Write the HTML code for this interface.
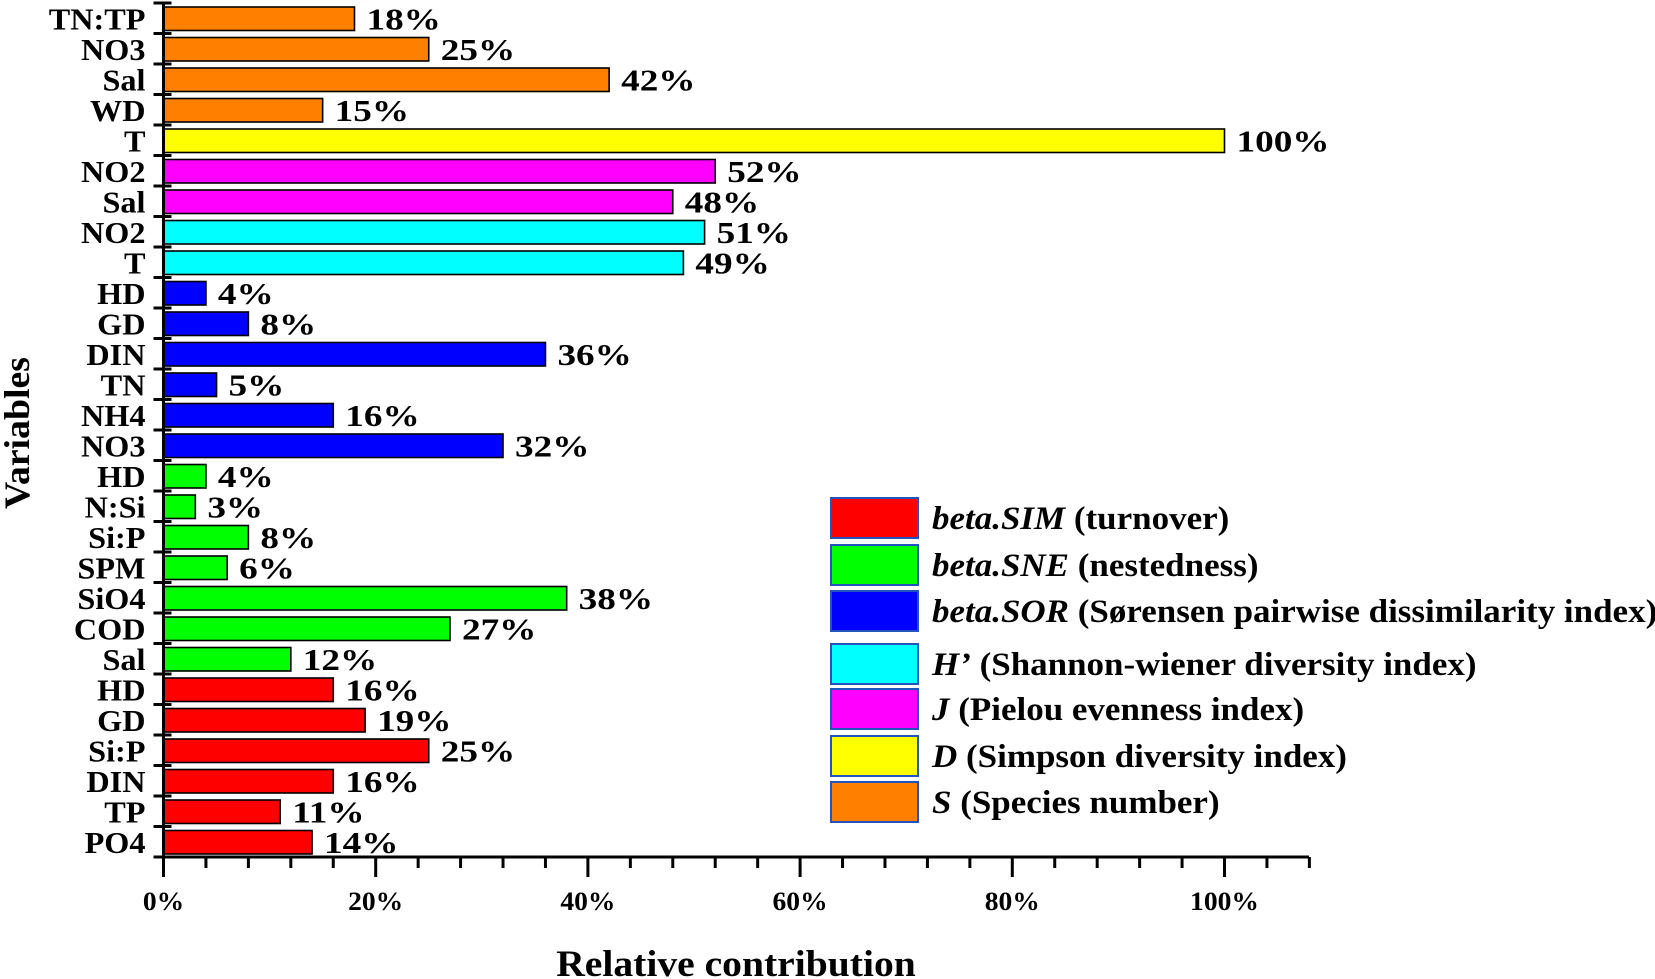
<!DOCTYPE html>
<html><head><meta charset="utf-8"><style>
html,body{margin:0;padding:0;background:#fff;}
svg{display:block;font-family:"Liberation Serif",serif;font-weight:bold;}
</style></head><body>
<svg id="chart" width="1655" height="979"></svg>
<script>
const categories=["TN:TP","NO3","Sal","WD","T","NO2","Sal","NO2","T","HD","GD","DIN","TN","NH4","NO3","HD","N:Si","Si:P","SPM","SiO4","COD","Sal","HD","GD","Si:P","DIN","TP","PO4"];
const values=[18,25,42,15,100,52,48,51,49,4,8,36,5,16,32,4,3,8,6,38,27,12,16,19,25,16,11,14];
const groups=["S","S","S","S","D","J","J","H","H","SOR","SOR","SOR","SOR","SOR","SOR","SNE","SNE","SNE","SNE","SNE","SNE","SNE","SIM","SIM","SIM","SIM","SIM","SIM"];
const groupColors={SIM:"#FF0000",SNE:"#00FF00",SOR:"#0000FF",H:"#00FFFF",J:"#FF00FF",D:"#FFFF00",S:"#FF8000"};
const xTicks=[0,20,40,60,80,100];
const xTickLabels=["0%","20%","40%","60%","80%","100%"];
const legendKeys=["SIM","SNE","SOR","H","J","D","S"];
const legendItal=["beta.SIM","beta.SNE","beta.SOR","H’","J","D","S"];
const legendRest=[" (turnover)"," (nestedness)"," (Sørensen pairwise dissimilarity index)"," (Shannon-wiener diversity index)"," (Pielou evenness index)"," (Simpson diversity index)"," (Species number)"];

const NS="http://www.w3.org/2000/svg";
const svg=document.getElementById('chart');
const X0=163.5,X100=1224.5,YT=3,YB=857,AXEND=1309;
const xs=v=>X0+(X100-X0)*v/100;
const band=(YB-YT)/categories.length;
const ys=i=>YT+band*i;
function mk(t,a,p){const e=document.createElementNS(NS,t);for(const k in a)e.setAttribute(k,a[k]);(p||svg).appendChild(e);return e;}
function fit(el,f){const w=el.getComputedTextLength();el.setAttribute('textLength',w*f);el.setAttribute('lengthAdjust','spacingAndGlyphs');}

categories.forEach((c,i)=>{
  const y=ys(i);
  const r=mk('rect',{x:X0,y:y+4,width:xs(values[i])-X0,height:band-7,fill:groupColors[groups[i]],stroke:'#000','stroke-width':1.6});
  
  
  const l=mk('text',{x:X0-18,y:y+band/2+11,'text-anchor':'end','font-size':31});
  l.textContent=c;
  
  
  fit(l,1.04);
  const v=mk('text',{x:xs(values[i])+12,y:y+band/2+11,'font-size':31});
  v.textContent=values[i]+'%';
  
  
  fit(v,1.2);
  const t=mk('line',{x1:X0-10,x2:X0+8,y1:y,y2:y,stroke:'#000','stroke-width':3});
  
  
});
const bt=mk('line',{x1:X0-10,x2:X0+8,y1:YB,y2:YB,stroke:'#000','stroke-width':3});


const ya=mk('line',{x1:X0,x2:X0,y1:YT,y2:YB,stroke:'#000','stroke-width':3});


const xa=mk('line',{x1:X0,x2:AXEND,y1:YB,y2:YB,stroke:'#000','stroke-width':3});


for(let p=0;p<=108;p+=4){
  const major=p%20===0;
  const t=mk('line',{x1:xs(p),x2:xs(p),y1:YB,y2:YB+(major?20:11),stroke:'#000','stroke-width':3});
  
  
}
xTicks.forEach((p,i)=>{
  const t=mk('text',{x:xs(p),y:910,'text-anchor':'middle','font-size':26});
  t.textContent=xTickLabels[i];
  
  
  fit(t,1.06);
});
const xt=mk('text',{x:736,y:976,'text-anchor':'middle','font-size':37});
xt.textContent='Relative contribution';


fit(xt,1.07);
const yt=mk('text',{x:0,y:0,'text-anchor':'middle','font-size':36,transform:'translate(29,433) rotate(-90)'});
yt.textContent='Variables';


fit(yt,1.05);

const legTops=[498,545,591,644,689,736,782];
legendKeys.forEach((k,i)=>{
  const g=mk('g',{});
  
  
  mk('rect',{x:831,y:legTops[i],width:87,height:40,fill:groupColors[k],stroke:'#2255bb','stroke-width':2},g);
  const t=mk('text',{x:932,y:legTops[i]+31,'font-size':33},g);
  const it=mk('tspan',{'font-style':'italic'},t);it.textContent=legendItal[i];
  const rs=mk('tspan',{},t);rs.textContent=legendRest[i];
  fit(t,1.06);
});
</script>
</body></html>
